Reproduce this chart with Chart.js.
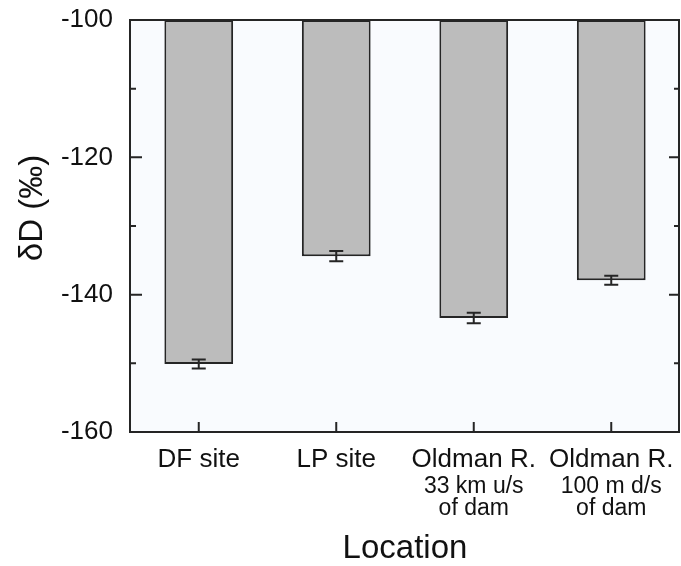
<!DOCTYPE html>
<html>
<head>
<meta charset="utf-8">
<script src="https://cdn.jsdelivr.net/npm/chart.js@4.4.1/dist/chart.umd.min.js"></script>
<style>
  html, body { margin: 0; padding: 0; background: #ffffff; }
  canvas { display: block; }
</style>
</head>
<body>
<canvas id="c" width="681" height="566"></canvas>
<script>
// ---- data ----
const categories = ["DF site", "LP site", "Oldman R.", "Oldman R."];
const subLabels = [[], [], ["33 km u/s", "of dam"], ["100 m d/s", "of dam"]];
const deltaD = [-150.1, -134.4, -143.4, -137.9];
const deltaDErr = [0.65, 0.75, 0.75, 0.65];
const yMin = -160, yMax = -100, yMinorStep = 10, yLabelStep = 20;
const xTitle = "Location";
const yTitle = "δD (‰)";

const FONT = "'Liberation Sans', Arial, Helvetica, sans-serif";
const INK = "#252525";

const customPlugin = {
  id: 'custom',
  beforeDatasetsDraw(chart) {
    const { ctx, chartArea: a } = chart;
    ctx.save();
    ctx.fillStyle = '#f9fbfe';
    ctx.fillRect(a.left, a.top, a.right - a.left, a.bottom - a.top);
    ctx.restore();
  },
  afterDatasetsDraw(chart) {
    const { ctx, chartArea: a } = chart;
    const xs = chart.scales.x, ys = chart.scales.y;
    ctx.save();
    ctx.strokeStyle = INK;
    // error bars
    ctx.lineWidth = 2;
    deltaD.forEach((v, i) => {
      const x = xs.getPixelForValue(i);
      const y1 = ys.getPixelForValue(v - deltaDErr[i]);
      const y2 = ys.getPixelForValue(v + deltaDErr[i]);
      ctx.beginPath();
      ctx.moveTo(x, y1); ctx.lineTo(x, y2);
      ctx.moveTo(x - 7, y1); ctx.lineTo(x + 7, y1);
      ctx.moveTo(x - 7, y2); ctx.lineTo(x + 7, y2);
      ctx.stroke();
    });
    // frame
    ctx.lineWidth = 2;
    ctx.strokeRect(a.left, a.top, a.right - a.left - 1, a.bottom - a.top);
    // y ticks (inward, both sides)
    for (let v = yMin; v <= yMax; v += yMinorStep) {
      const y = ys.getPixelForValue(v);
      const major = (v % yLabelStep === 0);
      ctx.beginPath();
      ctx.moveTo(a.left, y); ctx.lineTo(a.left + (major ? 12 : 6), y);
      ctx.moveTo(a.right - 1, y); ctx.lineTo(a.right - 1 - (major ? 10 : 5), y);
      ctx.stroke();
    }
    // x ticks (inward)
    categories.forEach((c, i) => {
      const x = xs.getPixelForValue(i);
      ctx.beginPath();
      ctx.moveTo(x, a.bottom); ctx.lineTo(x, a.bottom - 10);
      ctx.stroke();
    });
    // sub labels
    ctx.fillStyle = '#111';
    ctx.font = '23px ' + FONT;
    ctx.textAlign = 'center';
    ctx.textBaseline = 'alphabetic';
    subLabels.forEach((lines, i) => {
      const x = xs.getPixelForValue(i);
      lines.forEach((t, j) => ctx.fillText(t, x, 493 + j * 22));
    });
    // axis titles
    ctx.font = '33px ' + FONT;
    ctx.fillText(xTitle, (a.left + a.right) / 2, 558);
    ctx.translate(42, 208);
    ctx.rotate(-Math.PI / 2);
    ctx.font = '33px ' + FONT;
    ctx.fillText(yTitle, 0, 0);
    ctx.restore();
  }
};

new Chart(document.getElementById('c'), {
  type: 'bar',
  data: {
    labels: categories,
    datasets: [{
      data: deltaD,
      base: yMax,
      backgroundColor: '#bcbcbc',
      borderColor: INK,
      borderWidth: 2,
      borderSkipped: false,
      barPercentage: 0.5,
      categoryPercentage: 1.0
    }]
  },
  options: {
    responsive: false,
    animation: false,
    devicePixelRatio: 1,
    layout: { padding: { top: 20, right: 1, left: 0, bottom: 0 } },
    plugins: { legend: { display: false }, tooltip: { enabled: false } },
    scales: {
      x: {
        grid: { display: false },
        border: { display: false },
        ticks: { color: '#111', font: { family: FONT, size: 26 }, padding: 4, maxRotation: 0, autoSkip: false },
        afterFit(s) { s.height = 134; s.paddingLeft = 0; s.paddingRight = 0; }
      },
      y: {
        min: yMin, max: yMax,
        grid: { display: false },
        border: { display: false },
        ticks: {
          stepSize: yMinorStep,
          color: '#111',
          font: { family: FONT, size: 26 },
          padding: 9,
          callback: (v) => (v % yLabelStep === 0 ? String(v) : '')
        },
        afterFit(s) { s.width = 130; s.paddingTop = 0; s.paddingBottom = 0; }
      }
    }
  },
  plugins: [customPlugin]
});
</script>
</body>
</html>
